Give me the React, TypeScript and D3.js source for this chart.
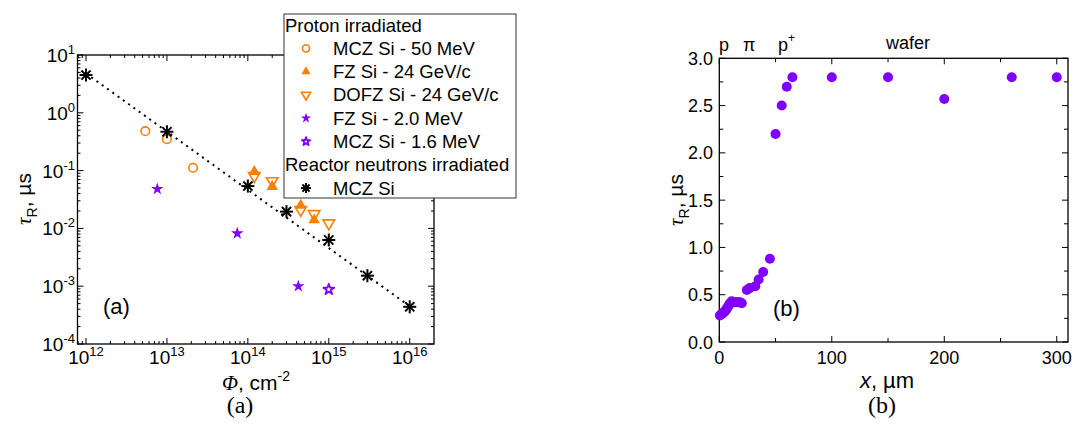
import React from "react";
import * as d3 from "d3";

// ---------- Data: panel (a) ----------
const mcz50Flu = [5.4e12, 1e13, 2.1e13];
const mcz50Tau = [0.48, 0.35, 0.112];
const fz24Flu = [1.2e14, 2e14, 4.5e14, 6.6e14];
const fz24Tau = [0.096, 0.053, 0.025, 0.014];
const dofzFlu = [1.2e14, 2e14, 4.5e14, 6.6e14, 1e15];
const dofzTau = [0.081, 0.066, 0.021, 0.0178, 0.0123];
const fz2Flu = [7.6e12, 7.4e13, 4.2e14];
const fz2Tau = [0.048, 0.0082, 0.001];
const mcz16Flu = [1e15];
const mcz16Tau = [0.00088];
const neutronFlu = [1e12, 1e13, 1e14, 3e14, 1e15, 3e15, 1e16];
const neutronTau = [4.5, 0.47, 0.054, 0.0195, 0.0063, 0.00152, 0.00044];
const fitFlu = [1e12, 1e16];
const fitTau = [4.8, 0.00045];
const xTickExpA = [12, 13, 14, 15, 16];
const yTickExpA = [-4, -3, -2, -1, 0, 1];

// ---------- Data: panel (b) ----------
const depthX = [0.5, 1.5, 2.5, 3.5, 4.5, 5.5, 6.5, 7.5, 8.5, 9.5, 11, 12.5, 14, 15.5, 17, 18.5, 20,
  24.5, 27, 32, 35, 39, 45, 50, 55.5, 60, 65, 100, 150, 200, 260, 300];
const tauB = [0.28, 0.29, 0.3, 0.31, 0.32, 0.33, 0.35, 0.37, 0.39, 0.41, 0.43, 0.42, 0.42, 0.42, 0.42, 0.42, 0.41,
  0.55, 0.57, 0.59, 0.66, 0.74, 0.88, 2.2, 2.5, 2.7, 2.8, 2.8, 2.8, 2.57, 2.8, 2.8];
const xTicksB = [0, 100, 200, 300];
const yTicksB = [0, 0.5, 1, 1.5, 2, 2.5, 3];

const ORANGE = "#FF7F00";
const PURPLE = "#8000FF";
const FONT = "Liberation Sans, Arial, sans-serif";
const SERIF = "Liberation Serif, Times New Roman, serif";

const xA = d3.scaleLog().domain([Math.pow(10, 11.895), Math.pow(10, 16.3)]).range([77.5, 434]);
const yA = d3.scaleLog().domain([1e-4, 10]).range([344, 55]);
const xB = d3.scaleLinear().domain([0, 310]).range([719.3, 1068]);
const yB = d3.scaleLinear().domain([0, 3]).range([342, 58.3]);

const triUp = d3.symbol().type(d3.symbolTriangle).size(58)() as string;
const triUpS = d3.symbol().type(d3.symbolTriangle).size(36)() as string;
const star = d3.symbol().type(d3.symbolStar).size(48)() as string;
const starS = d3.symbol().type(d3.symbolStar).size(32)() as string;
const ostar = d3.symbol().type(d3.symbolStar).size(36)() as string;
const ostarS = d3.symbol().type(d3.symbolStar).size(22)() as string;

function Asterisk({ x, y, r = 7 }: { x: number; y: number; r?: number }) {
  const d = r * Math.SQRT1_2;
  return (
    <g stroke="#000" strokeWidth={2}>
      <line x1={x - r} y1={y} x2={x + r} y2={y} />
      <line x1={x} y1={y - r} x2={x} y2={y + r} />
      <line x1={x - d} y1={y - d} x2={x + d} y2={y + d} />
      <line x1={x - d} y1={y + d} x2={x + d} y2={y - d} />
    </g>
  );
}

function Marker({ kind, x, y, small = false }: { kind: string; x: number; y: number; small?: boolean }) {
  if (kind === "circle")
    return <circle cx={x} cy={y} r={small ? 3.6 : 4.3} fill="none" stroke={ORANGE} strokeWidth={1.6} />;
  if (kind === "tri")
    return <path d={small ? triUpS : triUp} transform={`translate(${x},${y})`} fill={ORANGE} />;
  if (kind === "tridown")
    return <path d={small ? triUpS : triUp} transform={`translate(${x},${y}) rotate(180)`} fill="none" stroke={ORANGE} strokeWidth={1.6} />;
  if (kind === "star")
    return <path d={small ? starS : star} transform={`translate(${x},${y})`} fill={PURPLE} />;
  if (kind === "ostar")
    return <path d={small ? ostarS : ostar} transform={`translate(${x},${y})`} fill="none" stroke={PURPLE} strokeWidth={1.8} strokeLinejoin="round" />;
  return <Asterisk x={x} y={y} r={small ? 5 : 6.5} />;
}

function PanelA() {
  const [x0, x1] = xA.range();
  const [y0, y1] = yA.range();
  const minorX: number[] = [];
  for (let e = 11; e <= 16; e++) for (let m = 2; m <= 9; m++) {
    const v = m * Math.pow(10, e);
    if (v > xA.domain()[0] && v < xA.domain()[1]) minorX.push(v);
  }
  const minorY: number[] = [];
  for (let e = -4; e <= 0; e++) for (let m = 2; m <= 9; m++) minorY.push(m * Math.pow(10, e));
  const series = [
    { kind: "circle", fx: mcz50Flu, ty: mcz50Tau },
    { kind: "tri", fx: fz24Flu, ty: fz24Tau },
    { kind: "tridown", fx: dofzFlu, ty: dofzTau },
    { kind: "star", fx: fz2Flu, ty: fz2Tau },
    { kind: "ostar", fx: mcz16Flu, ty: mcz16Tau },
    { kind: "ast", fx: neutronFlu, ty: neutronTau },
  ];
  const fitLine = d3.line<number>().x((_, i) => xA(fitFlu[i])).y((_, i) => yA(fitTau[i]));
  const legendRows = [
    { kind: "header", label: "Proton irradiated" },
    { kind: "circle", label: "MCZ Si - 50 MeV" },
    { kind: "tri", label: "FZ Si - 24 GeV/c" },
    { kind: "tridown", label: "DOFZ Si - 24 GeV/c" },
    { kind: "star", label: "FZ Si - 2.0 MeV" },
    { kind: "ostar", label: "MCZ Si - 1.6 MeV" },
    { kind: "header", label: "Reactor neutrons irradiated" },
    { kind: "ast", label: "MCZ Si" },
  ];
  return (
    <g fontFamily={FONT}>
      <g stroke="#000" strokeWidth={1}>
        {xTickExpA.map((e) => {
          const px = xA(Math.pow(10, e));
          return (
            <g key={"xt" + e}>
              <line x1={px} x2={px} y1={y0} y2={y0 - 6} />
              <line x1={px} x2={px} y1={y1} y2={y1 + 6} />
            </g>
          );
        })}
        {minorX.map((v, i) => {
          const px = xA(v);
          return (
            <g key={"xm" + i}>
              <line x1={px} x2={px} y1={y0} y2={y0 - 3} />
              <line x1={px} x2={px} y1={y1} y2={y1 + 3} />
            </g>
          );
        })}
        {yTickExpA.map((e) => {
          const py = yA(Math.pow(10, e));
          return (
            <g key={"yt" + e}>
              <line x1={x0} x2={x0 + 6} y1={py} y2={py} />
              <line x1={x1} x2={x1 - 6} y1={py} y2={py} />
            </g>
          );
        })}
        {minorY.map((v, i) => {
          const py = yA(v);
          return (
            <g key={"ym" + i}>
              <line x1={x0} x2={x0 + 3} y1={py} y2={py} />
              <line x1={x1} x2={x1 - 3} y1={py} y2={py} />
            </g>
          );
        })}
      </g>
      <rect x={x0} y={y1} width={x1 - x0} height={y0 - y1} fill="none" stroke="#000" strokeWidth={1.3} />
      {xTickExpA.map((e) => (
        <text key={"xl" + e} x={xA(Math.pow(10, e))} y={364} textAnchor="middle" fontSize={19} fill="#000">
          10<tspan fontSize={13} dy={-8}>{e}</tspan>
        </text>
      ))}
      {yTickExpA.map((e) => (
        <text key={"yl" + e} x={75} y={yA(Math.pow(10, e)) + 7} textAnchor="end" fontSize={19} fill="#000">
          10<tspan fontSize={13} dy={-8}>{e < 0 ? "-" + -e : e}</tspan>
        </text>
      ))}
      <path d={fitLine(fitFlu) as string} fill="none" stroke="#000" strokeWidth={2} strokeDasharray="2 4.5" />
      {series.map((s, si) =>
        s.fx.map((f, i) => <Marker key={si + "-" + i} kind={s.kind} x={xA(f)} y={yA(s.ty[i])} />)
      )}
      <text x={103} y={314} fontSize={22} fill="#000">(a)</text>
      <rect x={284} y={14} width={232} height={184} fill="#fff" stroke="#333" strokeWidth={1} />
      {legendRows.map((r, i) => {
        const cy = 25 + i * 23.3;
        if (r.kind === "header")
          return <text key={"lg" + i} x={285} y={cy + 6.5} fontSize={18.5} fill="#000">{r.label}</text>;
        return (
          <g key={"lg" + i}>
            <Marker kind={r.kind} x={306} y={cy} small />
            <text x={333} y={cy + 6.5} fontSize={18.5} fill="#000">{r.label}</text>
          </g>
        );
      })}
      <text x={256} y={390} textAnchor="middle" fontSize={21} fill="#000">
        <tspan fontFamily={SERIF} fontStyle="italic">Φ</tspan>, cm<tspan fontSize={14} dy={-9}>-2</tspan>
      </text>
      <text transform="translate(31,199) rotate(-90)" textAnchor="middle" fontSize={21} fill="#000">
        <tspan fontStyle="italic" fontFamily={SERIF}>τ</tspan>
        <tspan fontSize={14} dy={6}>R</tspan>
        <tspan dy={-6}>, µs</tspan>
      </text>
      <text x={240} y={413} textAnchor="middle" fontSize={24} fontFamily={SERIF} fill="#000">(a)</text>
    </g>
  );
}

function PanelB() {
  const [x0, x1] = xB.range();
  const [y0, y1] = yB.range();
  const majX = [0, 50, 100, 150, 200, 250, 300];
  const minYs = d3.range(0, 3.01, 0.25);
  return (
    <g fontFamily={FONT}>
      <g stroke="#000" strokeWidth={1}>
        {majX.map((v) => {
          const px = xB(v);
          const len = v % 100 === 0 ? 6 : 4;
          return (
            <g key={"bx" + v}>
              <line x1={px} x2={px} y1={y0} y2={y0 - len} />
              <line x1={px} x2={px} y1={y1} y2={y1 + len} />
            </g>
          );
        })}
        {minYs.map((v) => {
          const py = yB(v);
          const len = Math.abs(v * 2 - Math.round(v * 2)) < 1e-6 ? 6 : 4;
          return (
            <g key={"by" + v}>
              <line x1={x0} x2={x0 + len} y1={py} y2={py} />
              <line x1={x1} x2={x1 - len} y1={py} y2={py} />
            </g>
          );
        })}
      </g>
      <rect x={x0} y={y1} width={x1 - x0} height={y0 - y1} fill="none" stroke="#000" strokeWidth={1.3} />
      {xTicksB.map((v) => (
        <text key={"bxl" + v} x={xB(v)} y={364} textAnchor="middle" fontSize={18} fill="#000">{v}</text>
      ))}
      {yTicksB.map((v) => (
        <text key={"byl" + v} x={713} y={yB(v) + 6.5} textAnchor="end" fontSize={18} fill="#000">{v.toFixed(1)}</text>
      ))}
      {depthX.map((x, i) => (
        <circle key={"pt" + i} cx={xB(x)} cy={yB(tauB[i])} r={5} fill={PURPLE} />
      ))}
      <text x={719} y={51} fontSize={18} fill="#000">p</text>
      <text x={743} y={51} fontSize={18} fill="#000">π</text>
      <text x={778} y={51} fontSize={18} fill="#000">p<tspan fontSize={12} dy={-9}>+</tspan></text>
      <text x={908} y={49} textAnchor="middle" fontSize={18} fill="#000">wafer</text>
      <text x={773} y={316} fontSize={22} fill="#000">(b)</text>
      <text x={887} y={388} textAnchor="middle" fontSize={22} fill="#000">
        <tspan fontStyle="italic">x</tspan>, µm
      </text>
      <text transform="translate(683,200) rotate(-90)" textAnchor="middle" fontSize={21} fill="#000">
        <tspan fontStyle="italic" fontFamily={SERIF}>τ</tspan>
        <tspan fontSize={14} dy={6}>R</tspan>
        <tspan dy={-6}>, µs</tspan>
      </text>
      <text x={882} y={413} textAnchor="middle" fontSize={24} fontFamily={SERIF} fill="#000">(b)</text>
    </g>
  );
}

export default function App() {
  return (
    <svg width={1072} height={441} viewBox="0 0 1072 441"
      style={{ position: "absolute", left: 0, top: 0, background: "#fff" }}>
      <rect width={1072} height={441} fill="#fff" />
      <PanelA />
      <PanelB />
    </svg>
  );
}
